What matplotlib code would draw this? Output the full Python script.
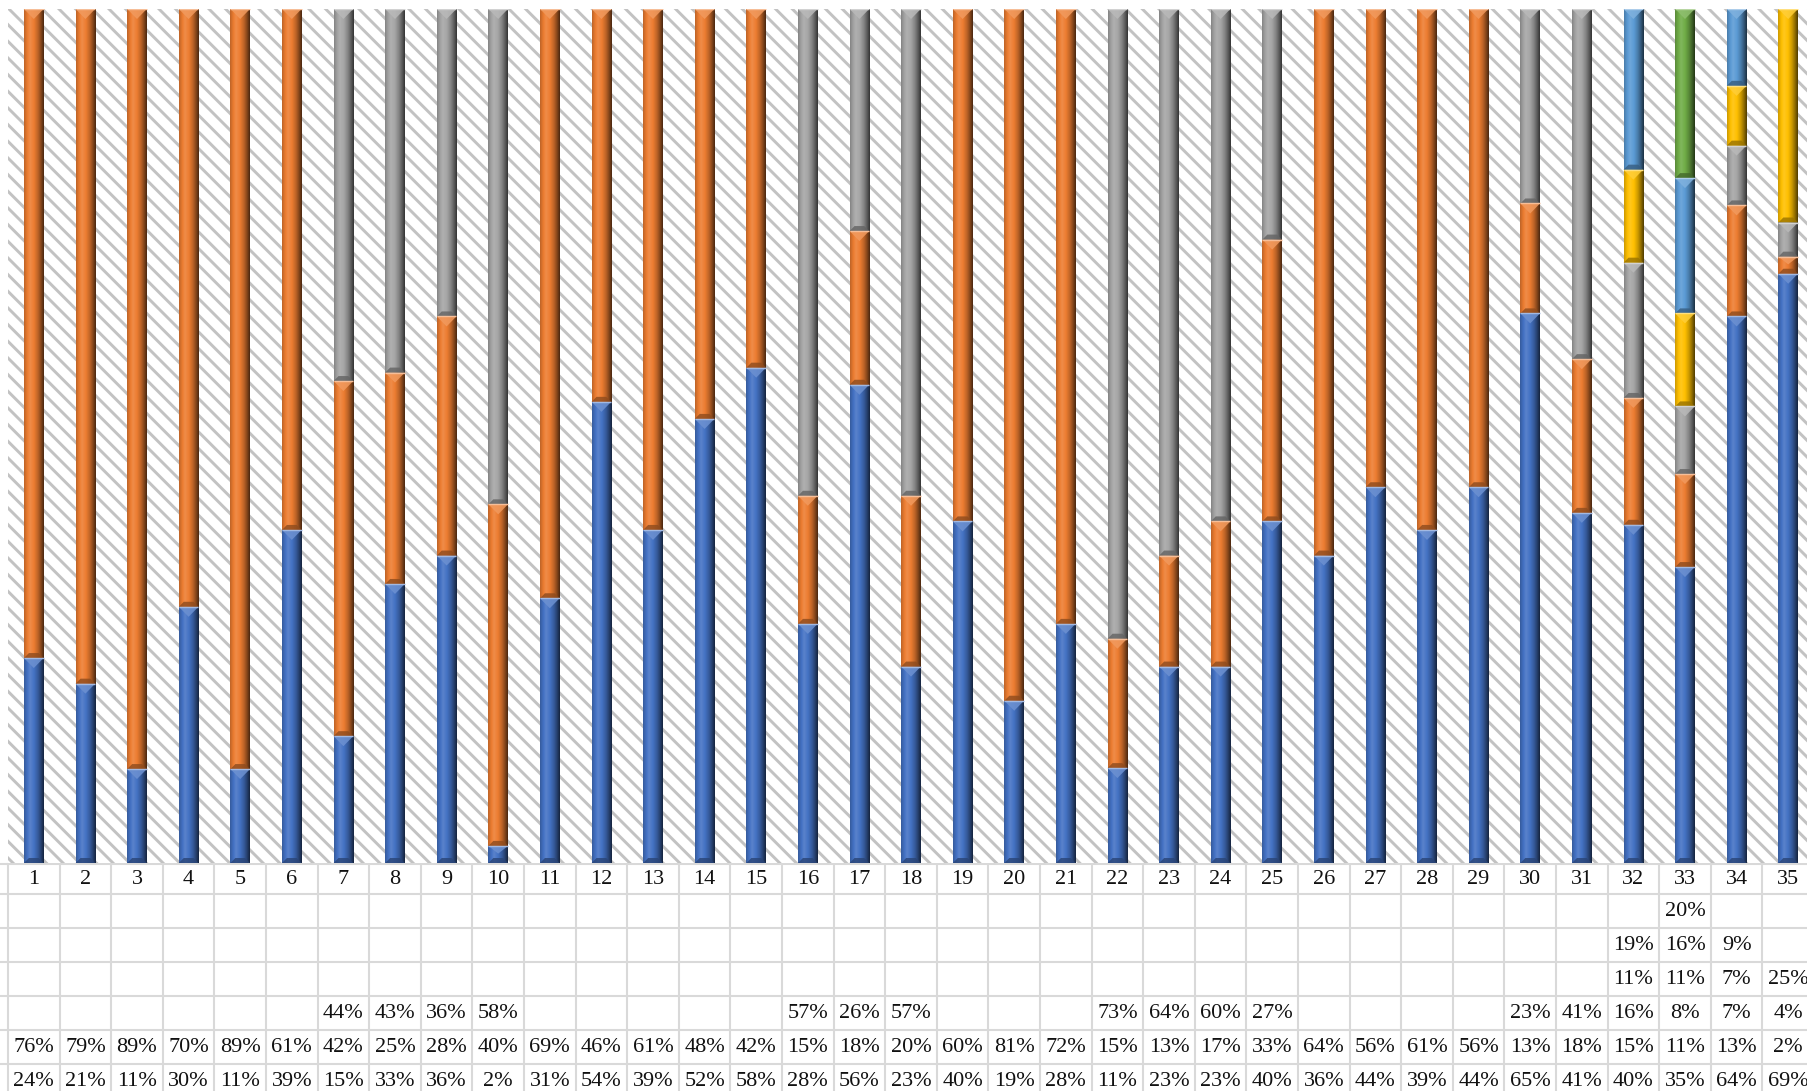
import numpy as np
import matplotlib
matplotlib.use("Agg")
import matplotlib.pyplot as plt
from matplotlib import transforms
from matplotlib.colors import to_rgb
from matplotlib.patches import Rectangle, Polygon

# ---- data (percent) ----
categories = [str(i) for i in range(1, 36)]

serie_1 = [24, 21, 11, 30, 11, 39, 15, 33, 36, 2, 31, 54, 39, 52, 58, 28, 56, 23,
           40, 19, 28, 11, 23, 23, 40, 36, 44, 39, 44, 65, 41, 40, 35, 64, 69]
serie_2 = [76, 79, 89, 70, 89, 61, 42, 25, 28, 40, 69, 46, 61, 48, 42, 15, 18, 20,
           60, 81, 72, 15, 13, 17, 33, 64, 56, 61, 56, 13, 18, 15, 11, 13, 2]
serie_3 = [None, None, None, None, None, None, 44, 43, 36, 58, None, None, None, None,
           None, 57, 26, 57, None, None, None, 73, 64, 60, 27, None, None, None, None,
           23, 41, 16, 8, 7, 4]
serie_4 = [None] * 31 + [11, 11, 7, 25]
serie_5 = [None] * 31 + [19, 16, 9, None]
serie_6 = [None] * 32 + [20, None, None]

series = [serie_1, serie_2, serie_3, serie_4, serie_5, serie_6]
colors = ['#4472C4', '#ED7D31', '#A5A5A5', '#FFC000', '#5B9BD5', '#70AD47']

FIG_W, FIG_H = 1808, 1091
SLOT = 51.6
PLOT_LEFT, PLOT_TOP, PLOT_BOTTOM = 8, 9, 863
ROW_EDGES = [864, 894, 928, 962, 996, 1030, 1064, 1098]
GRID = '#d9d9d9'

plt.rcParams['hatch.linewidth'] = 2.1
plt.rcParams['hatch.color'] = '#c2c2c2'


def shade(rgb, f):
    rgb = np.array(rgb)
    if f >= 1:
        return rgb + (1 - rgb) * (f - 1)
    return rgb * f


def gradient(color, n=48):
    # horizontal bevel look: light left-centre, dark right edge
    px = [0.0, 0.1, 0.3, 0.5, 0.7, 0.85, 1.0]
    pf = [0.8, 0.92, 1.12, 1.0, 0.8, 0.58, 0.32]
    base = to_rgb(color)
    fs = np.interp(np.linspace(0, 1, n), px, pf)
    return np.array([[shade(base, f) for f in fs]])


def bevel(ax, bar, color, px_y):
    x0, y0 = bar.get_x(), bar.get_y()
    w, h = bar.get_width(), bar.get_height()
    if h <= 0:
        return
    x1, y1 = x0 + w, y0 + h
    ax.imshow(gradient(color), extent=[x0, x1, y0, y1], aspect='auto',
              interpolation='bilinear', zorder=3)
    base = to_rgb(color)
    tri = min(10 * px_y, h * 0.45)
    ax.add_patch(Polygon([(x0, y1), (x1, y1), (x0 + w / 2, y1 - tri)],
                         closed=True, facecolor=shade(base, 1.22), edgecolor='none',
                         alpha=0.85, zorder=4))
    bot = min(5 * px_y, h * 0.3)
    ax.add_patch(Polygon([(x0, y0), (x1, y0), (x1 - w * 0.25, y0 + bot), (x0 + w * 0.25, y0 + bot)],
                         closed=True, facecolor=shade(base, 0.6), edgecolor='none',
                         alpha=0.8, zorder=4))
    ax.plot([x0, x1], [y1, y1], color=shade(base, 1.5), lw=1.0, zorder=5,
            solid_capstyle='butt')


fig = plt.figure(figsize=(FIG_W / 100, FIG_H / 100), dpi=100)

ax = fig.add_axes([PLOT_LEFT / FIG_W, (FIG_H - PLOT_BOTTOM) / FIG_H,
                   35 * SLOT / FIG_W, (PLOT_BOTTOM - PLOT_TOP) / FIG_H])
ax.set_facecolor('white')
ax.add_patch(Rectangle((0, 0), 1, 1, transform=ax.transAxes, facecolor='white',
                       edgecolor='#c2c2c2', hatch='\\\\', lw=0, zorder=0))

x = np.arange(len(categories))
vals = np.array([[v if v is not None else 0 for v in s] for s in series], dtype=float)
totals = vals.sum(axis=0)
norm = vals / totals
px_y = 1.0 / (PLOT_BOTTOM - PLOT_TOP)

bottom = np.zeros(len(categories))
for i, color in enumerate(colors):
    bars = ax.bar(x, norm[i], bottom=bottom, width=0.378, color=color,
                  edgecolor='none', zorder=2)
    for bar in bars:
        bevel(ax, bar, color, px_y)
    bottom += norm[i]

ax.set_xlim(-0.5, len(categories) - 0.5)
ax.set_ylim(0, 1)
for s in ax.spines.values():
    s.set_visible(False)
ax.set_xticks([])
ax.set_yticks([])

# ---- data table under the plot ----
tax = fig.add_axes([0, 0, 1, 1], zorder=-1)
tax.set_xlim(0, FIG_W)
tax.set_ylim(FIG_H, 0)
tax.axis('off')
blend = transforms.blended_transform_factory(ax.transData, tax.transData)

tax.hlines(ROW_EDGES, 0, FIG_W, color=GRID, lw=1.5)
for k in range(len(categories) + 1):
    tax.plot([k - 0.5, k - 0.5], [ROW_EDGES[0], ROW_EDGES[-1]], color=GRID, lw=1.5,
             transform=blend, clip_on=False)

font = dict(family='Liberation Serif', size=16, color='#111111', ha='center', va='center')
centers = [(ROW_EDGES[r] + ROW_EDGES[r + 1]) / 2 for r in range(len(ROW_EDGES) - 1)]
for j, cat in enumerate(categories):
    tax.text(j, centers[0], cat, transform=blend, **font)
# table rows listed from the last series down to the first
for r, s in enumerate(series[::-1]):
    for j, v in enumerate(s):
        if v is not None:
            tax.text(j, centers[r + 1] + 1, f"{v}%", transform=blend, **font)

fig.savefig('out.png', dpi=100)
